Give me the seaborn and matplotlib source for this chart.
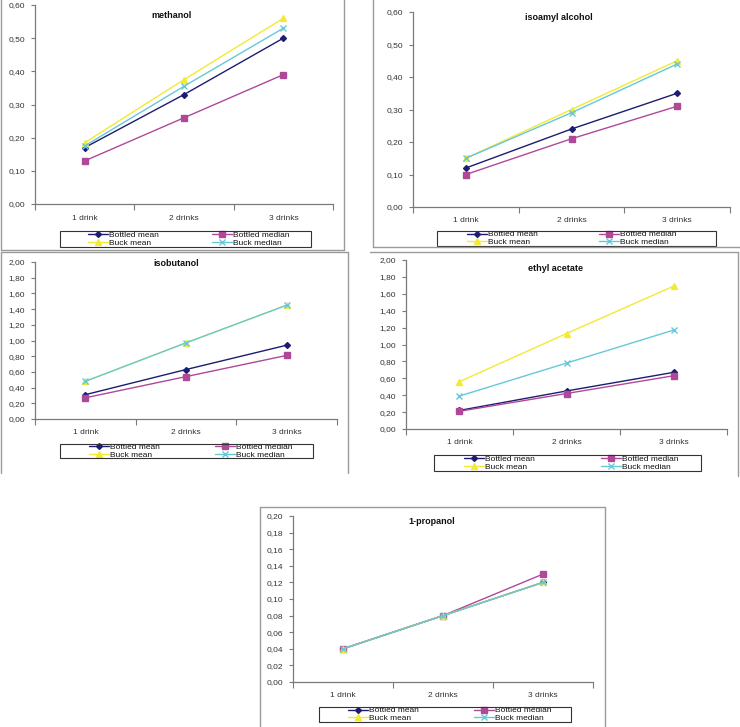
import matplotlib
matplotlib.use("Agg")
import matplotlib.pyplot as plt
import seaborn as sns
from matplotlib.lines import Line2D
from matplotlib.patches import Rectangle
from matplotlib.ticker import FuncFormatter, FixedLocator

# data
drinks = ["1 drink", "2 drinks", "3 drinks"]
series_names = ["Bottled mean", "Bottled median", "Buck mean", "Buck median"]

methanol = {
    "Bottled mean": [0.17, 0.33, 0.50],
    "Bottled median": [0.13, 0.26, 0.39],
    "Buck mean": [0.185, 0.375, 0.56],
    "Buck median": [0.175, 0.355, 0.53],
}
isoamyl = {
    "Bottled mean": [0.12, 0.24, 0.35],
    "Bottled median": [0.10, 0.21, 0.31],
    "Buck mean": [0.15, 0.30, 0.45],
    "Buck median": [0.15, 0.29, 0.44],
}
isobutanol = {
    "Bottled mean": [0.31, 0.63, 0.94],
    "Bottled median": [0.27, 0.54, 0.81],
    "Buck mean": [0.48, 0.97, 1.45],
    "Buck median": [0.48, 0.97, 1.45],
}
ethyl_acetate = {
    "Bottled mean": [0.22, 0.45, 0.67],
    "Bottled median": [0.21, 0.42, 0.63],
    "Buck mean": [0.56, 1.13, 1.69],
    "Buck median": [0.39, 0.78, 1.17],
}
propanol = {
    "Bottled mean": [0.04, 0.08, 0.12],
    "Bottled median": [0.04, 0.08, 0.13],
    "Buck mean": [0.04, 0.08, 0.12],
    "Buck median": [0.04, 0.08, 0.12],
}

colors = {"Bottled mean": "#1c1c72", "Bottled median": "#b04898",
          "Buck mean": "#f2ea34", "Buck median": "#66c8d8"}
markers = {"Bottled mean": "D", "Bottled median": "s", "Buck mean": "^", "Buck median": "x"}
msizes = {"Bottled mean": 3.0, "Bottled median": 4.5, "Buck mean": 5.0, "Buck median": 5.0}

sns.set_style("white")
plt.rcParams["font.family"] = ["Liberation Sans", "DejaVu Sans"]

W, H = 740, 727
fig = plt.figure(figsize=(7.4, 7.27), dpi=100)
frame_col = "#9a9a9a"
txt_col = "#333333"


def fx(x):
    return x / W


def fy(y):
    return 1 - y / H


def frac(l, t, r, b):
    return [l / W, 1 - b / H, (r - l) / W, (b - t) / H]


def frame(l, t, r, b, sides):
    pts = {"left": ([l, l], [t, b]), "right": ([r, r], [t, b]),
           "top": ([l, r], [t, t]), "bottom": ([l, r], [b, b])}
    for s in sides:
        xs, ys = pts[s]
        fig.add_artist(Line2D([fx(x) for x in xs], [fy(y) for y in ys],
                              color=frame_col, lw=1.0, transform=fig.transFigure))


def panel(data, title, ax_px, ymax, ystep, leg_px, cols_px, title_px, xpad=7):
    ax = fig.add_axes(frac(*ax_px))
    for name in series_names:
        sns.lineplot(x=drinks, y=data[name], ax=ax, sort=False, color=colors[name],
                     marker=markers[name], markersize=msizes[name], lw=1.0,
                     markeredgecolor=colors[name], markeredgewidth=1.0, label=name)
    ax.set_xlim(-0.5, 2.5)
    ax.set_ylim(0, ymax)
    ax.set_xlabel("")
    ax.set_ylabel("")
    for s in ["top", "right"]:
        ax.spines[s].set_visible(False)
    for s in ["left", "bottom"]:
        ax.spines[s].set_color("#7a7a7a")
        ax.spines[s].set_linewidth(0.9)
    ax.xaxis.set_major_locator(FixedLocator([-0.5, 0.5, 1.5, 2.5]))
    ax.xaxis.set_minor_locator(FixedLocator([0, 1, 2]))
    ax.set_xticklabels([], minor=False)
    ax.set_xticklabels(drinks, minor=True)
    ax.tick_params(axis="x", which="major", direction="out", length=4, width=0.8,
                   color="#7a7a7a", bottom=True)
    ax.tick_params(axis="x", which="minor", length=0, pad=xpad, labelsize=6,
                   labelcolor=txt_col, bottom=True)
    nt = int(round(ymax / ystep))
    ax.set_yticks([i * ystep for i in range(nt + 1)])
    ax.yaxis.set_major_formatter(FuncFormatter(lambda v, p: f"{v:.2f}".replace(".", ",")))
    ax.tick_params(axis="y", direction="out", length=3, width=0.8, color="#7a7a7a",
                   labelsize=6, labelcolor=txt_col, pad=4, left=True)
    ax.grid(False)
    fig.text(fx(title_px[0]), fy(title_px[1]), title, ha="center", va="center",
             fontsize=6.5, fontweight="bold", color="#111111")

    # Excel style legend: box plus two columns
    handles, labels = ax.get_legend_handles_labels()
    l, t, r, b = leg_px
    fig.add_artist(Rectangle((fx(l), fy(b)), (r - l) / W, (b - t) / H, fill=False,
                             edgecolor="#333333", lw=0.8, transform=fig.transFigure))
    yc = fy((t + b) / 2)
    legs = []
    for ci, idx in enumerate([[0, 2], [1, 3]]):
        leg = ax.legend([handles[i] for i in idx], [labels[i] for i in idx],
                        loc="center left", bbox_to_anchor=(fx(cols_px[ci]), yc),
                        bbox_transform=fig.transFigure, borderaxespad=0, borderpad=0,
                        fontsize=6, frameon=False, labelspacing=0.0,
                        handlelength=2.4, handletextpad=0.15, labelcolor="#111111")
        legs.append(leg)
    ax.add_artist(legs[0])
    return ax


panel(methanol, "methanol", (35, 5, 333, 204), 0.6, 0.1,
      (60, 231, 311, 247), (88, 212), (172, 15), xpad=8)
frame(1, -2, 344, 250, ["left", "right", "bottom"])

panel(isoamyl, "isoamyl alcohol", (413, 12, 730, 207), 0.6, 0.1,
      (437, 231, 716, 246), (467, 599), (559, 18))
frame(373, -2, 742, 247, ["left", "bottom"])

panel(isobutanol, "isobutanol", (35, 262, 337, 419), 2.0, 0.2,
      (60, 444, 313, 458), (89, 215), (176, 264))
frame(1, 252, 348, 473, ["left", "right", "top"])

panel(ethyl_acetate, "ethyl acetate", (406, 260, 727, 429), 2.0, 0.2,
      (434, 455, 701, 471), (464, 601), (555, 268))
frame(370, 252, 738, 476, ["right", "top"])

panel(propanol, "1-propanol", (293, 516, 593, 682), 0.2, 0.02,
      (319, 707, 571, 722), (348, 474), (432, 521))
frame(260, 507, 605, 729, ["left", "right", "top"])

fig.savefig("out.png", dpi=100, facecolor="white")
